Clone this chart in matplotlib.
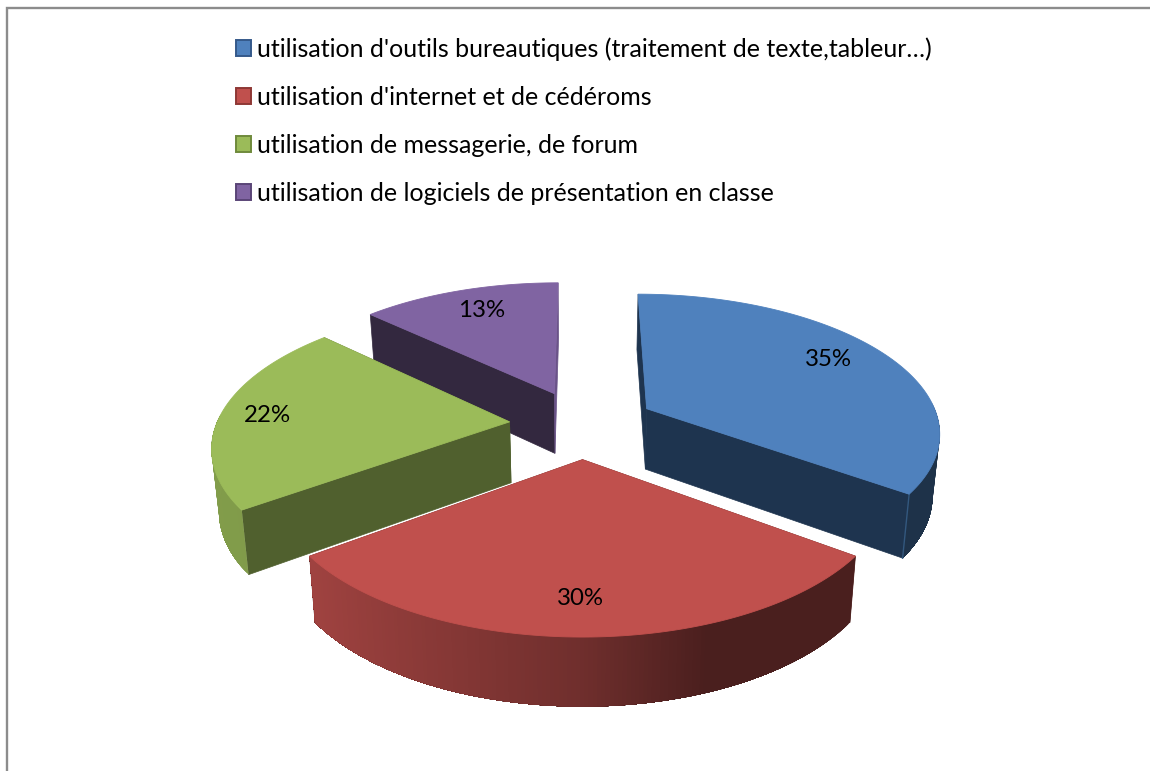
import numpy as np
import matplotlib
matplotlib.use("Agg")
import matplotlib.pyplot as plt
from matplotlib.patches import Polygon, Rectangle
from matplotlib.colors import to_rgb

labels = ["utilisation d'outils bureautiques (traitement de texte,tableur…)",
          "utilisation d'internet et de cédéroms",
          "utilisation de messagerie, de forum",
          "utilisation de logiciels de présentation en classe"]
values = [35, 30, 22, 13]
colors = ["#4F81BD", "#C0504D", "#9BBB59", "#8064A2"]
edge_colors = ["#35598A", "#8E3835", "#6F8A3C", "#5A4577"]
wall_start = ["#1E344F", "#4A1B18", "#50602E", "#33283F"]
wall_end = ["#1E344F", "#4A1B18", "#50602E", "#6A5388"]
wall_seam = ["#33587F", None, None, None]
draw_order = [3, 1, 0, 2]
label_r = [0.76, 0.81, 0.84, 0.77]
label_dy = [-6, 0, 1, -2]
label_dx = [0, -2, 0, 3]

CX, CY, A, B, P = 582.5, 424.0, 293.0, 137.0, 0.157
EXPLODE, DEPTH, SHRINK = 0.25, 61.0, 0.98

def project(u, v):
    s = 1.0 / (1.0 + P * v)
    return CX + A * u * s, CY - B * v * s, s

def bottom(x, y, s):
    return CX + (x - CX) * SHRINK, y + DEPTH * s ** 0.6

fig = plt.figure(figsize=(11.5, 7.71), dpi=100)
ax = fig.add_axes([0, 0, 1, 1])
ax.set_xlim(0, 1150)
ax.set_ylim(771, 0)
ax.axis("off")

# frame
ax.plot([6.5, 6.5, 1150], [771, 7.5, 7.5], color="#8C8C8C", lw=1.7, solid_joinstyle="miter")

fracs = np.array(values) / sum(values)
edges = np.concatenate([[0], np.cumsum(fracs)]) * 2 * np.pi

def shade(theta):
    return np.interp(np.sin(theta), [-1, -0.8, 0, 0.35, 1], [0.84, 0.83, 0.58, 0.385, 0.385])

for i in draw_order:
    z = 2 + draw_order.index(i) * 3
    t0, t1 = edges[i], edges[i + 1]
    mid = (t0 + t1) / 2
    ou, ov = EXPLODE * np.sin(mid), EXPLODE * np.cos(mid)
    th = np.linspace(t0, t1, 160)
    x, y, s = project(ou + np.sin(th), ov + np.cos(th))
    bx, by = bottom(x, y, s)
    ax_, ay_, as_ = project(ou, ov)
    abx, aby = bottom(ax_, ay_, as_)
    base = np.array(to_rgb(colors[i]))
    # radial walls first: the curved wall and top hide whatever is turned away
    for e, wc in ((0, wall_start[i]), (-1, wall_end[i])):
        ax.add_patch(Polygon([(ax_, ay_), (x[e], y[e]), (bx[e], by[e]), (abx, aby)], closed=True,
                             fc=wc, ec=wc, lw=0.5, zorder=z))
    # outer curved wall, only where it faces the viewer
    front = np.where(np.cos(th) < 0.05)[0]
    for k in front[:-1]:
        c = base * shade((th[k] + th[k + 1]) / 2)
        poly = np.r_[np.c_[x[k:front[-1] + 1], y[k:front[-1] + 1]],
                     np.c_[bx[k:front[-1] + 1], by[k:front[-1] + 1]][::-1]]
        ax.add_patch(Polygon(poly, closed=True, fc=c, ec="none", zorder=z + 0.5))
    if wall_seam[i]:
        ax.plot([x[-1], bx[-1]], [y[-1], by[-1]], color=wall_seam[i], lw=1, zorder=z + 0.6)
    # top face
    ax.add_patch(Polygon(np.r_[[[ax_, ay_]], np.c_[x, y]], closed=True, fc=colors[i], ec=colors[i],
                         lw=0.6, zorder=z + 1))
    # data label
    lx, ly, _ = project(ou + label_r[i] * np.sin(mid), ov + label_r[i] * np.cos(mid))
    ax.text(lx + label_dx[i], ly + label_dy[i], f"{values[i]}%", ha="center", va="center", fontsize=17.3,
            family="Lato", color="black", zorder=30)

# legend
for i, lab in enumerate(labels):
    yc = 48 + i * 48
    ax.add_patch(Rectangle((235.5, yc - 8), 15.5, 15.5, fc=colors[i], ec=edge_colors[i], lw=1.4, zorder=5))
    ax.text(257, yc + 1.5, lab, ha="left", va="center", fontsize=18, family="Lato", color="black")

fig.savefig("out.png", dpi=100)
